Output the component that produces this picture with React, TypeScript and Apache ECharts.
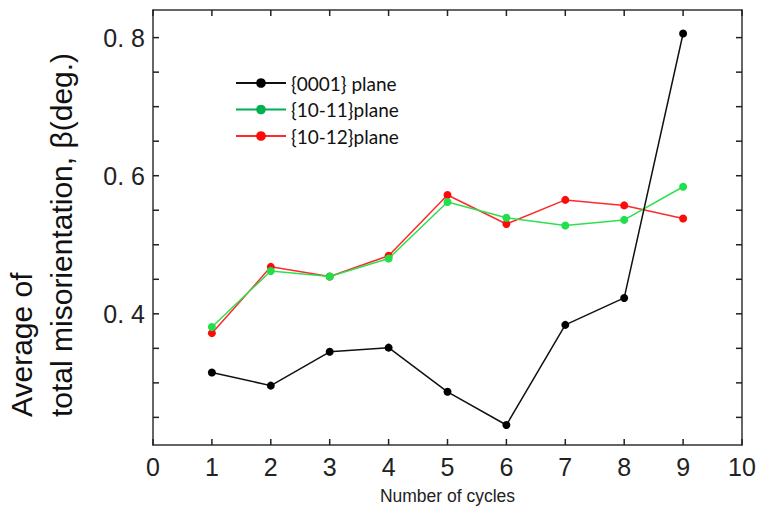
import React, { useEffect, useRef } from "react";
import * as echarts from "echarts";

const cycles = [1, 2, 3, 4, 5, 6, 7, 8, 9];
const plane0001 = [0.315, 0.296, 0.345, 0.351, 0.287, 0.239, 0.384, 0.423, 0.806];
const plane1011 = [0.381, 0.462, 0.454, 0.48, 0.562, 0.539, 0.528, 0.536, 0.584];
const plane1012 = [0.372, 0.468, 0.454, 0.484, 0.572, 0.53, 0.565, 0.557, 0.538];
const seriesNames = ["{0001} plane", "{10-11}plane", "{10-12}plane"];
const xTicks = [0, 1, 2, 3, 4, 5, 6, 7, 8, 9, 10];
const yTicks = [0.25, 0.3, 0.35, 0.4, 0.45, 0.5, 0.55, 0.6, 0.65, 0.7, 0.75, 0.8];
const yLabels = [0.4, 0.6, 0.8];
const xTitle = "Number of cycles";
const yTitle = "Average of\ntotal misorientation, β(deg.)";
const Y_MIN = 0.21;
const Y_MAX = 0.84;

const FONT = "'Liberation Sans', Arial, sans-serif";
const TICK_LEN = 6;
const TICK_STYLE = { stroke: "#222", lineWidth: 1.5 };

function makeXAxis(extra: any) {
  return {
    type: "value",
    min: 0,
    max: 10,
    interval: 1,
    splitLine: { show: false },
    axisLine: { show: true, onZero: false, lineStyle: { color: "#333", width: 1.5 } },
    axisTick: { show: false },
    ...extra,
  };
}

function makeYAxis(extra: any) {
  return {
    type: "value",
    min: Y_MIN,
    max: Y_MAX,
    splitLine: { show: false },
    axisLine: { show: true, onZero: false, lineStyle: { color: "#333", width: 1.5 } },
    axisTick: { show: false },
    ...extra,
  };
}

export default function App() {
  const ref = useRef<HTMLDivElement>(null);
  useEffect(() => {
    if (!ref.current) return;
    const chart = echarts.init(ref.current, null, { renderer: "svg" });
    const pair = (arr: number[]) => cycles.map((c, i) => [c, arr[i]]);
    const lineSeries = (name: string, arr: number[], dot: string, line: string, z: number) => ({
      name,
      type: "line",
      data: pair(arr),
      symbol: "circle",
      symbolSize: 8,
      itemStyle: { color: dot },
      lineStyle: { color: line, width: 1.5 },
      z,
    });
    chart.setOption({
      animation: false,
      backgroundColor: "#fff",
      grid: { left: 153, right: 16, top: 10, bottom: 65, outerBoundsMode: "none", containLabel: false },
      legend: {
        orient: "vertical",
        left: 235,
        top: 72,
        padding: 0,
        itemWidth: 50,
        itemHeight: 12,
        itemGap: 4.5,
        textStyle: { fontFamily: "Lato, 'Open Sans', sans-serif", fontSize: 19, lineHeight: 22, color: "#111" },
        data: [
          { name: seriesNames[0] },
          { name: seriesNames[1], itemStyle: { color: "#00b050" }, lineStyle: { color: "#00b050" } },
          { name: seriesNames[2] },
        ],
      },
      xAxis: [
        makeXAxis({
          position: "bottom",
          name: xTitle,
          nameLocation: "middle",
          nameGap: 42,
          nameTextStyle: { fontFamily: FONT, fontSize: 17.5, color: "#222" },
          axisLabel: { show: true, fontFamily: FONT, fontSize: 25, color: "#222", margin: 9 },
        }),
        makeXAxis({ position: "top", axisLabel: { show: false } }),
      ],
      yAxis: [
        makeYAxis({
          position: "left",
          axisLabel: {
            show: true,
            customValues: yLabels.slice(),
            fontFamily: FONT,
            fontSize: 25,
            color: "#222",
            margin: 8,
            formatter: (v: number) => v.toFixed(1).replace(".", ". "),
          },
        }),
        makeYAxis({ position: "right", axisLabel: { show: false } }),
      ],
      graphic: [
        {
          type: "text",
          x: 1.5,
          y: 417,
          rotation: Math.PI / 2,
          style: {
            text: yTitle,
            font: `30px ${FONT}`,
            fill: "#111",
            align: "left",
            verticalAlign: "top",
            lineHeight: 40,
          },
        },
      ],
      series: [
        lineSeries(seriesNames[0], plane0001, "#000", "#111", 3),
        lineSeries(seriesNames[1], plane1011, "#1fe04a", "#2ee050", 2),
        lineSeries(seriesNames[2], plane1012, "#ff0a0a", "#ff2a2a", 1),
        {
          name: "xticks",
          type: "custom",
          silent: true,
          clip: false,
          z: 100,
          data: xTicks.map((v) => [v, Y_MIN]),
          renderItem: (params: any, api: any) => {
            const cs = params.coordSys;
            const p = api.coord([api.value(0), api.value(1)]);
            const top = cs.y;
            const bottom = cs.y + cs.height;
            return {
              type: "group",
              children: [
                { type: "line", shape: { x1: p[0], y1: bottom, x2: p[0], y2: bottom - TICK_LEN }, style: TICK_STYLE },
                { type: "line", shape: { x1: p[0], y1: top, x2: p[0], y2: top + TICK_LEN }, style: TICK_STYLE },
              ],
            };
          },
        },
        {
          name: "yticks",
          type: "custom",
          silent: true,
          clip: false,
          z: 100,
          data: yTicks.map((v) => [0, v]),
          renderItem: (params: any, api: any) => {
            const cs = params.coordSys;
            const p = api.coord([api.value(0), api.value(1)]);
            const left = cs.x;
            const right = cs.x + cs.width;
            return {
              type: "group",
              children: [
                { type: "line", shape: { x1: left, y1: p[1], x2: left + TICK_LEN, y2: p[1] }, style: TICK_STYLE },
                { type: "line", shape: { x1: right, y1: p[1], x2: right - TICK_LEN, y2: p[1] }, style: TICK_STYLE },
              ],
            };
          },
        },
      ],
    });
    return () => chart.dispose();
  }, []);
  return <div ref={ref} style={{ width: 758, height: 510, position: "absolute", left: 0, top: 0 }} />;
}
